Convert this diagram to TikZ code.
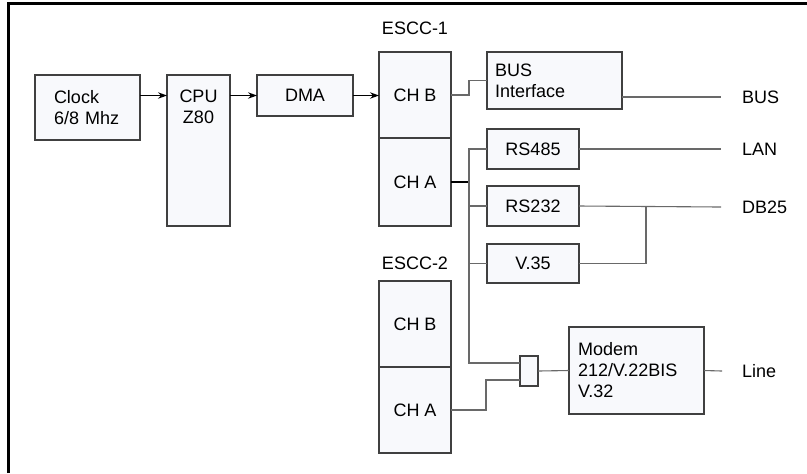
\documentclass[tikz,border=0pt]{standalone}
\usepackage{fontspec}
\setmainfont{Liberation Sans}
\usetikzlibrary{arrows.meta, positioning, calc}
\definecolor{boxF}{HTML}{F8F9FC}
\definecolor{boxD}{HTML}{404040}
\definecolor{wireG}{HTML}{696969}

\begin{document}
\begin{tikzpicture}[
  x=0.5pt, y=-0.5pt,
  blk/.style={
    draw=boxD, fill=boxF,
    font=\fontsize{9}{10.5}\selectfont,
    align=center, inner sep=0pt, outer sep=0pt,
    anchor=north west, line width=0.75pt
  },
  lblk/.style={
    blk, align=left, inner xsep=#1, text width=0pt
  },
  txt/.style={
    font=\fontsize{9}{10.5}\selectfont,
    align=center, inner sep=0pt, outer sep=0pt
  },
  wire/.style={line width=0.55pt, wireG},
  fat/.style={line width=1.1pt, black},
  arr/.style={-{Stealth[length=4.5pt, width=3.2pt]}, line width=0.55pt, black},
  frame/.style={line width=1.5pt, black}
]
\useasboundingbox (0,0) rectangle (807,473);

%% ═══ FRAME ═══
\draw[frame] (8,473) -- (8,3.5) -- (807,3.5);

%% ═══ CLOCK / CPU / DMA ═══
\node[blk, align=left, text width=33.5pt, inner xsep=9.5pt,
  minimum width=52.5pt, minimum height=32.5pt] (clock) at (35,75)
  {Clock\\6/8 Mhz};

\node[blk, minimum width=31.5pt, minimum height=75.5pt,
  label={[txt, anchor=north, yshift=-7.6pt]north:{CPU\\Z80}}] (cpu) at (167,75) {};

\node[blk, minimum width=48pt, minimum height=20.5pt] (dma) at (257,75) {DMA};

%% ═══ ESCC-1 ═══
\node[blk, minimum width=36pt, minimum height=43pt] (e1b) at (379,52) {CH B};
\node[blk, minimum width=36pt, minimum height=44pt] (e1a) at (379,138) {CH A};
\node[txt, above=8.6pt of e1b] (e1lbl) {ESCC-1};

\draw[arr] (clock.east |- dma.west) -- (cpu.west |- dma.west);
\draw[arr] (cpu.east |- dma.west) -- (dma.west);
\draw[arr] (dma.east) -- (e1b.west |- dma.east);

%% ═══ INTERFACES ═══
\node[blk, align=left, text width=59.5pt, inner xsep=4pt,
  minimum width=67.5pt, minimum height=28.5pt] (busif) at (487,52)
  {BUS\\Interface};
\node[blk, minimum width=46pt, minimum height=20pt] (rs485) at (487,129) {RS485};
\node[blk, minimum width=46pt, minimum height=20pt] (rs232) at (487,186) {RS232};
\node[blk, minimum width=46pt, minimum height=19.5pt] (v35) at (487,244) {V.35};

%% ═══ ESCC-2 ═══
\node[blk, minimum width=36pt, minimum height=43pt] (e2b) at (379,281) {CH B};
\node[blk, minimum width=36pt, minimum height=43pt] (e2a) at (379,367) {CH A};
\node[txt, above=5.8pt of e2b] (e2lbl) {ESCC-2};

%% ═══ MODEM ═══
\node[blk, minimum width=9pt, minimum height=15pt] (conn) at (520,356) {};
\node[blk, align=left, text width=58.5pt, inner xsep=4.5pt,
  minimum width=67.5pt, minimum height=43.5pt] (modem) at (569,327)
  {Modem\\212/V.22BIS\\V.32};

%% ═══ OUTPUTS ═══
\coordinate (busend) at (721,97);
\coordinate (lanend) at (721,149);
\coordinate (dbend) at (721,207);
\coordinate (lineend) at (722,371);
\coordinate (trunk) at (469,182);
\coordinate (dbjoin) at (646,207);

\node[txt, anchor=west, right=10.5pt of busend] (bus) {BUS};
\node[txt, anchor=west, right=10.5pt of lanend] (lan) {LAN};
\node[txt, anchor=west, right=10.5pt of dbend] (db25) {DB25};
\node[txt, anchor=west, right=10pt of lineend] (line) {Line};

%% ═══ WIRES ═══
\draw[wire] (e1b.east) -- ++(18,0) |- (busif.west);
\draw[wire] (busend -| busif.east) -- (busend);
\draw[fat] (e1a.east) -- (trunk);
\draw[wire] (rs485.west) -- (rs485.west -| trunk)
  -- ([yshift=4pt]conn.west -| trunk) -- ([yshift=4pt]conn.west);
\draw[wire] (rs232.west) -- (rs232.west -| trunk);
\draw[wire] (v35.west) -- (v35.west -| trunk);
\draw[wire] (rs485.east) -- (lanend);
\draw[wire] (rs232.east -| rs232.east) -- (dbend);
\draw[wire] (v35.east) -| (dbjoin);
\draw[wire] (e2a.east) -- ++(35,0) |- ([yshift=-4.5pt]conn.west);
\draw[wire] (conn.east) -- (modem.west);
\draw[wire] (modem.east) -- (lineend);

\end{tikzpicture}
\end{document}
